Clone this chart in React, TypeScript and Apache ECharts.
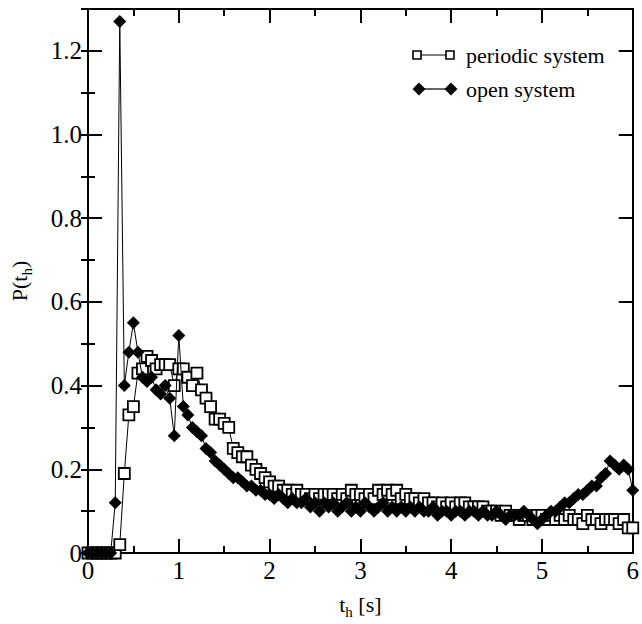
import React, { useEffect, useRef } from "react";
import * as echarts from "echarts";

const timeS = [
  0.0, 0.05, 0.1, 0.15, 0.2, 0.25, 0.3, 0.35, 0.4, 0.45, 0.5, 0.55, 0.6, 0.65, 0.7, 0.75, 0.8, 0.85, 0.9, 0.95,
  1.0, 1.05, 1.1, 1.15, 1.2, 1.25, 1.3, 1.35, 1.4, 1.45, 1.5, 1.55, 1.6, 1.65, 1.7, 1.75, 1.8, 1.85, 1.9, 1.95,
  2.0, 2.05, 2.1, 2.15, 2.2, 2.25, 2.3, 2.35, 2.4, 2.45, 2.5, 2.55, 2.6, 2.65, 2.7, 2.75, 2.8, 2.85, 2.9, 2.95,
  3.0, 3.05, 3.1, 3.15, 3.2, 3.25, 3.3, 3.35, 3.4, 3.45, 3.5, 3.55, 3.6, 3.65, 3.7, 3.75, 3.8, 3.85, 3.9, 3.95,
  4.0, 4.05, 4.1, 4.15, 4.2, 4.25, 4.3, 4.35, 4.4, 4.45, 4.5, 4.55, 4.6, 4.65, 4.7, 4.75, 4.8, 4.85, 4.9, 4.95,
  5.0, 5.05, 5.1, 5.15, 5.2, 5.25, 5.3, 5.35, 5.4, 5.45, 5.5, 5.55, 5.6, 5.65, 5.7, 5.75, 5.8, 5.85, 5.9, 5.95,
  6.0,
];

const periodicSystem = [
  0, 0, 0, 0, 0, 0, 0, 0.02, 0.19, 0.33, 0.35, 0.43, 0.44, 0.47, 0.46, 0.44, 0.45, 0.45, 0.45, 0.40,
  0.44, 0.44, 0.42, 0.40, 0.43, 0.39, 0.37, 0.35, 0.32, 0.32, 0.31, 0.30, 0.25, 0.24, 0.23, 0.23, 0.21, 0.20, 0.19, 0.18,
  0.17, 0.16, 0.16, 0.15, 0.15, 0.14, 0.15, 0.14, 0.14, 0.13, 0.14, 0.13, 0.14, 0.14, 0.14, 0.13, 0.14, 0.13, 0.15, 0.14,
  0.14, 0.13, 0.14, 0.13, 0.15, 0.14, 0.15, 0.14, 0.15, 0.13, 0.14, 0.13, 0.13, 0.12, 0.13, 0.12, 0.12, 0.11, 0.12, 0.11,
  0.12, 0.11, 0.12, 0.12, 0.11, 0.11, 0.11, 0.11, 0.10, 0.10, 0.10, 0.09, 0.10, 0.09, 0.09, 0.08, 0.09, 0.09, 0.08, 0.09,
  0.09, 0.08, 0.09, 0.08, 0.09, 0.08, 0.09, 0.08, 0.08, 0.07, 0.09, 0.08, 0.08, 0.07, 0.08, 0.08, 0.08, 0.07, 0.08, 0.06,
  0.06,
];

const openSystem = [
  0, 0, 0, 0, 0, 0, 0.12, 1.27, 0.40, 0.48, 0.55, 0.48, 0.42, 0.41, 0.42, 0.39, 0.38, 0.40, 0.37, 0.28,
  0.52, 0.35, 0.33, 0.30, 0.29, 0.28, 0.25, 0.24, 0.22, 0.21, 0.20, 0.19, 0.18, 0.18, 0.17, 0.16, 0.16, 0.15, 0.15, 0.14,
  0.14, 0.13, 0.14, 0.13, 0.12, 0.13, 0.12, 0.12, 0.13, 0.11, 0.12, 0.10, 0.12, 0.11, 0.12, 0.10, 0.11, 0.12, 0.10, 0.11,
  0.10, 0.12, 0.11, 0.10, 0.11, 0.12, 0.10, 0.11, 0.10, 0.11, 0.10, 0.11, 0.10, 0.11, 0.10, 0.10, 0.11, 0.09, 0.10, 0.10,
  0.09, 0.10, 0.10, 0.09, 0.10, 0.10, 0.09, 0.10, 0.09, 0.09, 0.10, 0.09, 0.08, 0.09, 0.09, 0.09, 0.10, 0.09, 0.08, 0.07,
  0.08, 0.09, 0.10, 0.10, 0.11, 0.12, 0.12, 0.13, 0.14, 0.14, 0.15, 0.16, 0.16, 0.18, 0.19, 0.22, 0.21, 0.20, 0.21, 0.20,
  0.15,
];

const seriesNames = ["periodic system", "open system"];

const FONT = "'Liberation Serif', 'DejaVu Serif', serif";

export default function App() {
  const ref = useRef<HTMLDivElement>(null);

  useEffect(() => {
    if (!ref.current) return;
    const chart = echarts.init(ref.current, null, { renderer: "svg" });

    const tickStyle = { color: "#000", width: 2 };
    const lineStyle = { show: true, onZero: false, lineStyle: { color: "#000", width: 2 } };
    const labelStyle = { color: "#000", fontSize: 25, fontFamily: FONT };

    const xBase = {
      type: "value" as const,
      min: 0,
      max: 6,
      interval: 1,
      axisLine: lineStyle,
      axisTick: { show: true, inside: true, length: 14, lineStyle: tickStyle },
      minorTick: { show: true, splitNumber: 2, length: 7, lineStyle: tickStyle },
      splitLine: { show: false },
      minorSplitLine: { show: false },
    };

    const yMajor = {
      type: "value" as const,
      min: 0,
      max: 1.3,
      interval: 0.2,
      axisLine: lineStyle,
      axisTick: { show: true, inside: true, length: 14, lineStyle: tickStyle },
      splitLine: { show: false },
    };
    const yMinor = {
      type: "value" as const,
      min: 0,
      max: 1.3,
      interval: 0.1,
      axisLine: { show: false },
      axisTick: { show: true, inside: true, length: 7, lineStyle: tickStyle },
      axisLabel: { show: false },
      splitLine: { show: false },
    };

    const legendY1 = 55;
    const legendY2 = 89;
    const diamond = (cx: number, cy: number, r: number) => [
      [cx - r, cy],
      [cx, cy - r],
      [cx + r, cy],
      [cx, cy + r],
    ];

    const nameRich = {
      a: { fontSize: 22, fontFamily: FONT, color: "#000", lineHeight: 30, verticalAlign: "middle" },
      s: { fontSize: 15, fontFamily: FONT, color: "#000", verticalAlign: "bottom" },
    };

    chart.setOption({
      animation: false,
      backgroundColor: "#fff",
      grid: { left: 85, right: 9, top: 9, bottom: 66, containLabel: false },
      xAxis: [
        {
          ...xBase,
          position: "bottom",
          axisLabel: { ...labelStyle, margin: 5 },
          name: "{a|t}{s|h}{a| [s]}",
          nameLocation: "middle",
          nameGap: 36,
          nameTextStyle: { rich: nameRich },
        },
        { ...xBase, position: "top", axisLabel: { show: false } },
      ],
      yAxis: [
        {
          ...yMajor,
          position: "left",
          axisLabel: {
            ...labelStyle,
            margin: 6,
            showMaxLabel: false,
            formatter: (v: number) => (Math.abs(v) < 1e-9 ? "0" : Math.abs(v - 1.3) < 1e-6 ? "" : v.toFixed(1)),
          },
          name: "{a|P(t}{s|h}{a|)}",
          nameLocation: "middle",
          nameGap: 54,
          nameTextStyle: { rich: nameRich },
        },
        { ...yMinor, position: "left" },
        { ...yMajor, position: "right", axisLabel: { show: false } },
        { ...yMinor, position: "right" },
      ],
      series: [
        {
          name: seriesNames[0],
          type: "line",
          xAxisIndex: 0,
          yAxisIndex: 0,
          data: timeS.map((t, i) => [t, periodicSystem[i]]),
          symbol: "rect",
          symbolSize: 11,
          showAllSymbol: true,
          itemStyle: { color: "#fff", borderColor: "#000", borderWidth: 1.8 },
          lineStyle: { color: "#000", width: 1 },
          z: 2,
        },
        {
          name: seriesNames[1],
          type: "line",
          xAxisIndex: 0,
          yAxisIndex: 0,
          data: timeS.map((t, i) => [t, openSystem[i]]),
          symbol: "diamond",
          symbolSize: 13,
          showAllSymbol: true,
          itemStyle: { color: "#000" },
          lineStyle: { color: "#000", width: 1 },
          z: 3,
        },
      ],
      graphic: [
        { type: "line", shape: { x1: 417, y1: legendY1, x2: 450, y2: legendY1 }, style: { stroke: "#000", lineWidth: 1.2 } },
        { type: "rect", shape: { x: 413, y: legendY1 - 4, width: 8, height: 8 }, style: { fill: "#fff", stroke: "#000", lineWidth: 1.6 } },
        { type: "rect", shape: { x: 446, y: legendY1 - 4, width: 8, height: 8 }, style: { fill: "#fff", stroke: "#000", lineWidth: 1.6 } },
        {
          type: "text",
          x: 466,
          y: legendY1,
          style: { text: seriesNames[0], fill: "#000", fontSize: 22, fontFamily: FONT, verticalAlign: "middle" },
        },
        { type: "line", shape: { x1: 419, y1: legendY2, x2: 451, y2: legendY2 }, style: { stroke: "#000", lineWidth: 1.2 } },
        { type: "polygon", shape: { points: diamond(419, legendY2, 6.5) }, style: { fill: "#000" } },
        { type: "polygon", shape: { points: diamond(451, legendY2, 6.5) }, style: { fill: "#000" } },
        {
          type: "text",
          x: 466,
          y: legendY2,
          style: { text: seriesNames[1], fill: "#000", fontSize: 22, fontFamily: FONT, verticalAlign: "middle" },
        },
      ],
    });

    return () => chart.dispose();
  }, []);

  return (
    <div
      ref={ref}
      style={{ position: "absolute", left: 0, top: 0, width: 642, height: 624, background: "#fff" }}
    />
  );
}
